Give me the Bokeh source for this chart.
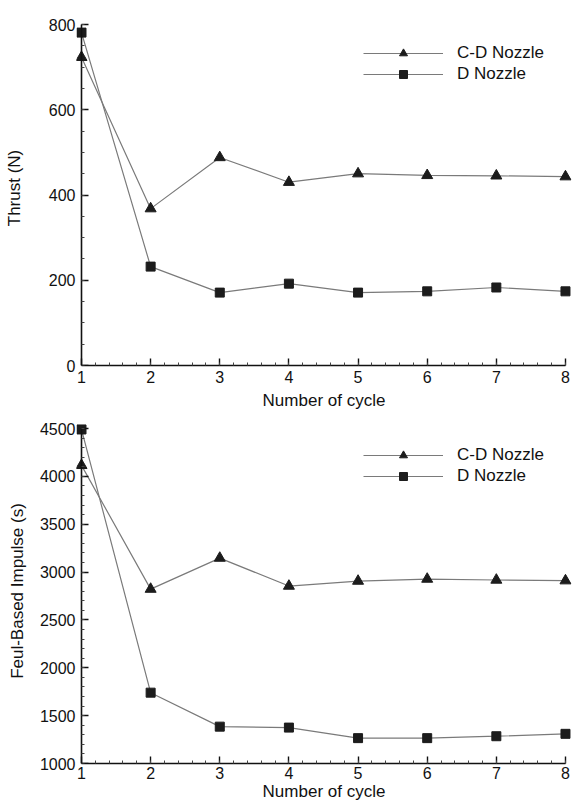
from bokeh.plotting import figure
from bokeh.layouts import column
from bokeh.models import Range1d, SingleIntervalTicker, Legend, LegendItem, LinearAxis
from bokeh.embed import file_html
from bokeh.resources import INLINE

# Number of detonation cycles
cycles = [1, 2, 3, 4, 5, 6, 7, 8]

# Thrust (N) per cycle
thrust_cd = [723, 368, 488, 430, 450, 446, 445, 443]
thrust_d = [781, 232, 171, 192, 171, 174, 183, 174]

# Fuel-based specific impulse (s) per cycle
isp_cd = [4115, 2822, 3146, 2854, 2906, 2927, 2917, 2910]
isp_d = [4490, 1740, 1385, 1375, 1265, 1265, 1285, 1310]

series_labels = ["C-D Nozzle", "D Nozzle"]
x_title = "Number of cycle"

FONT = "Liberation Sans"
INK = "#111111"
W = 572
FRAME_LEFT = 76
FRAME_RIGHT_PAD = 1
PX_PER_CYCLE = 69.14


def style_text(ax):
    ax.major_label_text_font = FONT
    ax.major_label_text_font_size = "16px"
    ax.major_label_text_color = INK
    ax.axis_label_text_font = FONT
    ax.axis_label_text_font_size = "17px"
    ax.axis_label_text_font_style = "normal"
    ax.axis_label_text_color = INK


def style_ticks(ax):
    ax.axis_line_color = INK
    ax.axis_line_width = 1.6
    ax.major_tick_line_color = INK
    ax.major_tick_line_width = 1.4
    ax.minor_tick_line_color = "#444444"
    ax.major_tick_in = 7
    ax.major_tick_out = 0
    ax.minor_tick_in = 3
    ax.minor_tick_out = 0


def make_panel(height, top_pad, bottom_pad, y_lo, y_top, y_interval, y_minor, n_major,
               y_label, cd, d, legend_loc, label_standoff, x_std):
    frame_w = W - FRAME_LEFT - FRAME_RIGHT_PAD
    x0 = 1 - (81 - FRAME_LEFT) / PX_PER_CYCLE
    x1 = x0 + frame_w / PX_PER_CYCLE
    p = figure(width=W, height=height, output_backend="svg", toolbar_location=None,
               x_range=Range1d(x0, x1), y_range=Range1d(y_lo, y_top),
               min_border_left=FRAME_LEFT, min_border_right=FRAME_RIGHT_PAD,
               min_border_top=top_pad, min_border_bottom=bottom_pad)
    p.outline_line_color = None
    p.xgrid.visible = False
    p.ygrid.visible = False
    p.background_fill_color = "white"
    p.border_fill_color = "white"

    l1 = p.line(cycles, cd, line_color="#7a7a7a", line_width=1.2)
    m1 = p.scatter(cycles, cd, marker="triangle", size=11, fill_color="#1c1c1c",
                   line_color="#1c1c1c")
    l2 = p.line(cycles, d, line_color="#7a7a7a", line_width=1.2)
    m2 = p.scatter(cycles, d, marker="square", size=9, fill_color="#1c1c1c",
                   line_color="#1c1c1c")

    # x axis along the frame bottom, spanning cycles 1..8
    xa = p.xaxis[0]
    xa.ticker = SingleIntervalTicker(interval=1, num_minor_ticks=5)
    xa.bounds = (1, 8)
    xa.axis_label = x_title
    xa.major_label_standoff = x_std[0]
    xa.axis_label_standoff = x_std[1]
    style_ticks(xa)
    style_text(xa)

    # y axis line and ticks pinned at cycle 1 (labels come from the axis below)
    y_bounds = (y_lo, y_lo + y_interval * n_major)
    ya = p.yaxis[0]
    ya.ticker = SingleIntervalTicker(interval=y_interval, num_minor_ticks=y_minor)
    ya.fixed_location = 1
    ya.bounds = y_bounds
    ya.major_label_text_color = None
    ya.major_label_text_alpha = 0
    ya.major_label_text_font_size = "1px"
    ya.major_label_standoff = 0
    ya.axis_label = None
    style_ticks(ya)

    # y tick labels and title
    yl = LinearAxis(ticker=SingleIntervalTicker(interval=y_interval), bounds=y_bounds,
                    axis_label=y_label, axis_line_color=None,
                    major_tick_line_color=None, minor_tick_line_color=None,
                    major_tick_in=0, major_tick_out=0, minor_tick_in=0, minor_tick_out=0,
                    major_label_standoff=1, axis_label_standoff=label_standoff)
    style_text(yl)
    p.add_layout(yl, "left")

    legend = Legend(items=[LegendItem(label=series_labels[0], renderers=[l1, m1]),
                           LegendItem(label=series_labels[1], renderers=[l2, m2])],
                    location=legend_loc, glyph_width=80, glyph_height=20,
                    label_height=20, spacing=1, padding=0, margin=0,
                    label_standoff=14, border_line_color=None,
                    background_fill_alpha=0, label_text_font=FONT,
                    label_text_font_size="17px", label_text_color=INK)
    p.add_layout(legend)
    return p


# Thrust panel: 0..800 spans 341 px
top = make_panel(412, 10, 47, 0, 800 + 14 / (341 / 800), 200, 4, 4, "Thrust (N)",
                 thrust_cd, thrust_d, (287, 281), 22, (5, 5))

# Impulse panel: 1000..4500 spans 335 px
bottom = make_panel(391, 6, 40, 1000, 4500 + 10 / (335 / 3500), 500, 5, 7,
                    "Feul-Based Impulse (s)", isp_cd, isp_d, (287, 277), 10, (3, 0))

layout = column(top, bottom, spacing=0)
open("out.html", "w").write(file_html(layout, INLINE))
